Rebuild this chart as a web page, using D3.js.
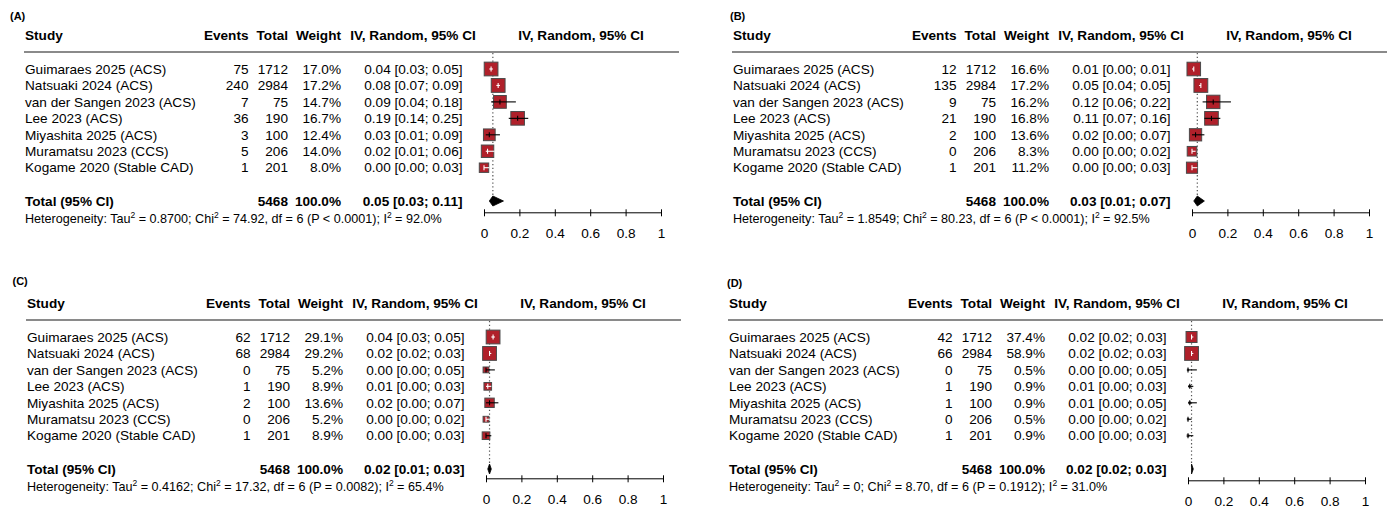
<!DOCTYPE html>
<html><head><meta charset="utf-8">
<script src="https://cdn.jsdelivr.net/npm/d3@7"></script>
<style>body{margin:0;background:#fff} svg text{font-family:"Liberation Sans",Arial,Helvetica,sans-serif;fill:#000}</style>
</head><body><svg id="c" width="1391" height="511"></svg>
<script>
// ---------- DATA ----------
const studies = ["Guimaraes 2025 (ACS)","Natsuaki 2024 (ACS)","van der Sangen 2023 (ACS)","Lee 2023 (ACS)","Miyashita 2025 (ACS)","Muramatsu 2023 (CCS)","Kogame 2020 (Stable CAD)"];
const totals = [1712, 2984, 75, 190, 100, 206, 201];
const totalN = 5468;
const panelLabels = ["(A)","(B)","(C)","(D)"];

const eventsA  = [75, 240, 7, 36, 3, 5, 1];
const weightsA = [17.0, 17.2, 14.7, 16.7, 12.4, 14.0, 8.0];
const estA     = [0.04, 0.08, 0.09, 0.19, 0.03, 0.02, 0.00];
const lowerA   = [0.03, 0.07, 0.04, 0.14, 0.01, 0.01, 0.00];
const upperA   = [0.05, 0.09, 0.18, 0.25, 0.09, 0.06, 0.03];

const eventsB  = [12, 135, 9, 21, 2, 0, 1];
const weightsB = [16.6, 17.2, 16.2, 16.8, 13.6, 8.3, 11.2];
const estB     = [0.01, 0.05, 0.12, 0.11, 0.02, 0.00, 0.00];
const lowerB   = [0.00, 0.04, 0.06, 0.07, 0.00, 0.00, 0.00];
const upperB   = [0.01, 0.05, 0.22, 0.16, 0.07, 0.02, 0.03];

const eventsC  = [62, 68, 0, 1, 2, 0, 1];
const weightsC = [29.1, 29.2, 5.2, 8.9, 13.6, 5.2, 8.9];
const estC     = [0.04, 0.02, 0.00, 0.01, 0.02, 0.00, 0.00];
const lowerC   = [0.03, 0.02, 0.00, 0.00, 0.00, 0.00, 0.00];
const upperC   = [0.05, 0.03, 0.05, 0.03, 0.07, 0.02, 0.03];

const eventsD  = [42, 66, 0, 1, 1, 0, 1];
const weightsD = [37.4, 58.9, 0.5, 0.9, 0.9, 0.5, 0.9];
const estD     = [0.02, 0.02, 0.00, 0.01, 0.01, 0.00, 0.00];
const lowerD   = [0.02, 0.02, 0.00, 0.00, 0.00, 0.00, 0.00];
const upperD   = [0.03, 0.03, 0.05, 0.03, 0.05, 0.02, 0.03];

const totalWeights = [100.0, 100.0, 100.0, 100.0];
const pooledEst   = [0.05, 0.03, 0.02, 0.02];
const pooledLower = [0.03, 0.01, 0.01, 0.02];
const pooledUpper = [0.11, 0.07, 0.03, 0.03];
const tau2 = ["0.8700", "1.8549", "0.4162", "0"];
const chi2 = ["74.92", "80.23", "17.32", "8.70"];
const dfs  = [6, 6, 6, 6];
const pvals = ["P < 0.0001", "P < 0.0001", "P = 0.0082", "P = 0.1912"];
const i2 = ["92.0%", "92.5%", "65.4%", "31.0%"];

const tickValues = [0, 0.2, 0.4, 0.6, 0.8, 1];
const tickLabels = ["0", "0.2", "0.4", "0.6", "0.8", "1"];
const colHeaders = ["Study", "Events", "Total", "Weight", "IV, Random, 95% CI", "IV, Random, 95% CI"];

// ---------- LAYOUT ----------
const FS = 13.6;
const svg = d3.select("#c");
const panelData = [
  {events: eventsA, weights: weightsA, est: estA, lower: lowerA, upper: upperA},
  {events: eventsB, weights: weightsB, est: estB, lower: lowerB, upper: upperB},
  {events: eventsC, weights: weightsC, est: estC, lower: lowerC, upper: upperC},
  {events: eventsD, weights: weightsD, est: estD, lower: lowerD, upper: upperD}
];
const layouts = [
  {dx: 0,   dy: 0,   lx: 10,  ly: 15.7, axShift: 0},
  {dx: 708, dy: 0,   lx: 730, ly: 15.7, axShift: 0},
  {dx: 2,   dy: 268, lx: 12.5, ly: 280.7, axShift: -2},
  {dx: 704, dy: 268, lx: 727, ly: 283.3, axShift: 0}
];
const L0 = {studyX: 25, eventsX: 248.5, totalX: 288, weightX: 341, ciX: 462.5, ciHeadX: 413,
  headerY: 35, lineY: 52, lineX1: 24, lineX2: 679, rowY0: 69, rowY1: 167.7,
  totalY: 201, hetY: 218.3, plotX0: 484, plotX1: 661, axisY: 212.3, plotHeadX: 581};

const fmt2 = d3.format(".2f");
const fmtW = d3.format(".1f");

panelData.forEach((p, i) => {
  const Lo = layouts[i];
  svg.append("text").attr("x", Lo.lx).attr("y", Lo.ly).attr("dy", "0.35em")
    .attr("font-weight", "bold").attr("font-size", 11).text(panelLabels[i]);
  const g = svg.append("g").attr("transform", `translate(${Lo.dx},${Lo.dy})`);

  const x = d3.scaleLinear().domain([0, 1]).range([L0.plotX0, L0.plotX1]);
  const y = d3.scalePoint().domain(studies).range([L0.rowY0, L0.rowY1]);

  // headers
  const hd = g.append("g").attr("font-weight", "bold").attr("font-size", FS);
  const hx = [L0.studyX, L0.eventsX, L0.totalX, L0.weightX, L0.ciHeadX, L0.plotHeadX];
  const ha = ["start", "end", "end", "end", "middle", "middle"];
  colHeaders.forEach((h, k) => {
    hd.append("text").attr("x", hx[k]).attr("y", L0.headerY).attr("dy", "0.35em")
      .attr("text-anchor", ha[k]).text(h);
  });
  g.append("line").attr("x1", L0.lineX1).attr("x2", L0.lineX2).attr("y1", L0.lineY).attr("y2", L0.lineY)
    .attr("stroke", "#8a8a8a").attr("stroke-width", 2);

  // table rows
  const rows = g.append("g").attr("font-size", FS);
  studies.forEach((s, k) => {
    const yy = y(s);
    rows.append("text").attr("x", L0.studyX).attr("y", yy).attr("dy", "0.35em").text(s);
    rows.append("text").attr("x", L0.eventsX).attr("y", yy).attr("dy", "0.35em").attr("text-anchor", "end").text(p.events[k]);
    rows.append("text").attr("x", L0.totalX).attr("y", yy).attr("dy", "0.35em").attr("text-anchor", "end").text(totals[k]);
    rows.append("text").attr("x", L0.weightX).attr("y", yy).attr("dy", "0.35em").attr("text-anchor", "end").text(fmtW(p.weights[k]) + "%");
    rows.append("text").attr("x", L0.ciX).attr("y", yy).attr("dy", "0.35em").attr("text-anchor", "end")
      .text(`${fmt2(p.est[k])} [${fmt2(p.lower[k])}; ${fmt2(p.upper[k])}]`);
  });

  // total row
  const tr = g.append("g").attr("font-size", FS).attr("font-weight", "bold");
  tr.append("text").attr("x", L0.studyX).attr("y", L0.totalY).attr("dy", "0.35em").text("Total (95% CI)");
  tr.append("text").attr("x", L0.totalX).attr("y", L0.totalY).attr("dy", "0.35em").attr("text-anchor", "end").text(totalN);
  tr.append("text").attr("x", L0.weightX).attr("y", L0.totalY).attr("dy", "0.35em").attr("text-anchor", "end").text(fmtW(totalWeights[i]) + "%");
  tr.append("text").attr("x", L0.ciX).attr("y", L0.totalY).attr("dy", "0.35em").attr("text-anchor", "end")
    .text(`${fmt2(pooledEst[i])} [${fmt2(pooledLower[i])}; ${fmt2(pooledUpper[i])}]`);

  // heterogeneity
  const ht = g.append("text").attr("x", L0.studyX).attr("y", L0.hetY).attr("dy", "0.35em").attr("font-size", 12.6);
  const sup = (t) => { ht.append("tspan").attr("dy", -5).attr("font-size", 8.5).text(t); };
  ht.append("tspan").text("Heterogeneity: Tau");
  sup("2");
  ht.append("tspan").attr("dy", 5).text(` = ${tau2[i]}; Chi`);
  sup("2");
  ht.append("tspan").attr("dy", 5).text(` = ${chi2[i]}, df = ${dfs[i]} (${pvals[i]}); I`);
  sup("2");
  ht.append("tspan").attr("dy", 5).text(` = ${i2[i]}`);

  // dotted pooled line
  g.append("line").attr("x1", x(pooledEst[i])).attr("x2", x(pooledEst[i]))
    .attr("y1", L0.lineY + 1).attr("y2", L0.totalY)
    .attr("stroke", "#555").attr("stroke-width", 1.2).attr("stroke-dasharray", "1.3,2.4");

  // squares + CIs
  const sMax = 13.8;
  const wMax = d3.max(p.weights);
  studies.forEach((s, k) => {
    const yy = y(s);
    const sz = sMax * Math.sqrt(p.weights[k] / wMax);
    const cx = x(p.est[k]);
    const inside = (x(p.upper[k]) - cx <= sz / 2 + 1.2) && (cx - x(p.lower[k]) <= sz / 2 + 1.2);
    g.append("rect").attr("x", cx - sz / 2).attr("y", yy - sz / 2).attr("width", sz).attr("height", sz)
      .attr("fill", "#b0202a").attr("stroke", "#4a4a4a").attr("stroke-width", 1);
    const col = inside ? "#fff" : "#000";
    g.append("line").attr("x1", x(p.lower[k])).attr("x2", x(p.upper[k])).attr("y1", yy).attr("y2", yy)
      .attr("stroke", col).attr("stroke-width", 1.1);
    g.append("line").attr("x1", cx).attr("x2", cx).attr("y1", yy - 2.5).attr("y2", yy + 2.5)
      .attr("stroke", col).attr("stroke-width", 1.1);
  });

  // diamond
  const ty = L0.totalY;
  g.append("path")
    .attr("d", `M${x(pooledLower[i])},${ty} L${x(pooledEst[i])},${ty - 5} L${x(pooledUpper[i])},${ty} L${x(pooledEst[i])},${ty + 5} Z`)
    .attr("fill", "#000").attr("stroke", "#000").attr("stroke-width", 0.8);

  // axis
  const ax = g.append("g").attr("transform", `translate(0,${L0.axisY + Lo.axShift})`)
    .call(d3.axisBottom(x).tickValues(tickValues).tickFormat((d, j) => tickLabels[j]).tickSizeOuter(0).tickSizeInner(7));
  ax.select(".domain").attr("stroke", "#000");
  ax.selectAll(".tick line").attr("y1", -3).attr("y2", 4).attr("stroke", "#000");
  ax.selectAll(".tick text").attr("y", 21).attr("dy", "0.35em").attr("font-size", FS)
    .attr("font-family", "Liberation Sans, Arial, sans-serif").attr("fill", "#000");
});
</script></body></html>
